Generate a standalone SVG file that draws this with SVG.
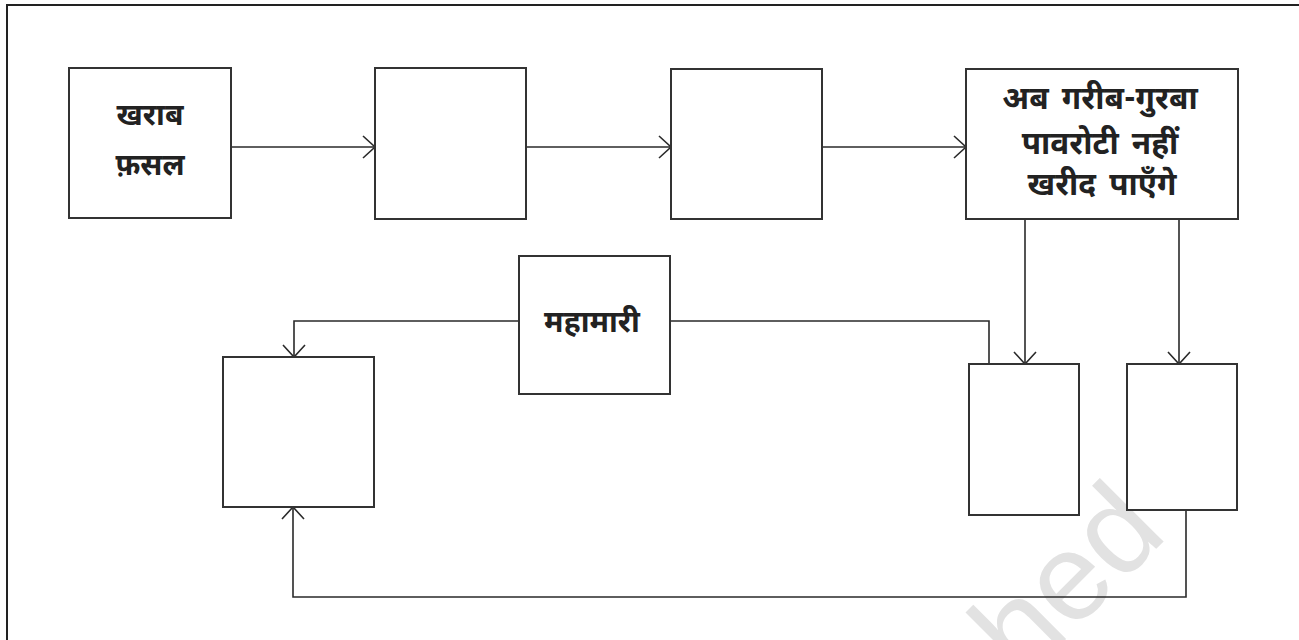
<svg xmlns="http://www.w3.org/2000/svg" width="1299" height="640" viewBox="0 0 1299 640">
<style>
.box{fill:#fff;stroke:#333;stroke-width:2}
.ln{fill:none;stroke:#2a2a2a;stroke-width:1.6}
.t{font-family:"Noto Sans Devanagari","Noto Sans","Lohit Devanagari",sans-serif;font-weight:bold;font-size:30px;fill:#222;text-anchor:middle}
.t4{font-size:31.5px;word-spacing:5px}
.wm{font-family:"Liberation Sans",Arial,sans-serif;font-size:124px;fill:#e2e2e2}
</style>
<defs>
<marker id="arr" markerUnits="userSpaceOnUse" markerWidth="30" markerHeight="30" refX="0" refY="0" viewBox="-15 -15 30 30" orient="auto">
<path d="M-12,-11 L0,0 L-12,11" fill="none" stroke="#2a2a2a" stroke-width="1.6"/>
</marker>
</defs>
<rect width="1299" height="640" fill="#fff"/>
<text class="wm" transform="translate(1023,682) rotate(-45)">hed</text>
<path d="M7,640 V5 H1299" fill="none" stroke="#222" stroke-width="2"/>
<g id="connectors">
<path class="ln" d="M231,147 H375" marker-end="url(#arr)"/>
<path class="ln" d="M526,147 H671" marker-end="url(#arr)"/>
<path class="ln" d="M822,147 H966" marker-end="url(#arr)"/>
<path class="ln" d="M1025,219 V364" marker-end="url(#arr)"/>
<path class="ln" d="M1179,219 V364" marker-end="url(#arr)"/>
<path class="ln" d="M519,321 H294 V357" marker-end="url(#arr)"/>
<path class="ln" d="M670,321 H989 V364"/>
<path class="ln" d="M1186,510 V597 H293 V507" marker-end="url(#arr)"/>
</g>
<g id="n1"><rect class="box" x="69" y="68" width="162" height="150"/>
<text class="t" x="150" y="125">खराब</text><text class="t" x="150" y="175">फ़सल</text></g>
<g id="n2"><rect class="box" x="375" y="68" width="151" height="151"/></g>
<g id="n3"><rect class="box" x="671" y="69" width="151" height="150"/></g>
<g id="n4"><rect class="box" x="966" y="69" width="272" height="150"/>
<text class="t t4" x="1100" y="109">अब गरीब-गुरबा</text>
<text class="t t4" x="1100" y="154">पावरोटी नहीं</text>
<text class="t t4" x="1102" y="195">खरीद पाएँगे</text></g>
<g id="n5"><rect class="box" x="519" y="256" width="151" height="138"/>
<text class="t" x="592" y="332">महामारी</text></g>
<g id="n6"><rect class="box" x="223" y="357" width="151" height="150"/></g>
<g id="n7"><rect class="box" x="969" y="364" width="110" height="151"/></g>
<g id="n8"><rect class="box" x="1127" y="364" width="110" height="146"/></g>
</svg>
